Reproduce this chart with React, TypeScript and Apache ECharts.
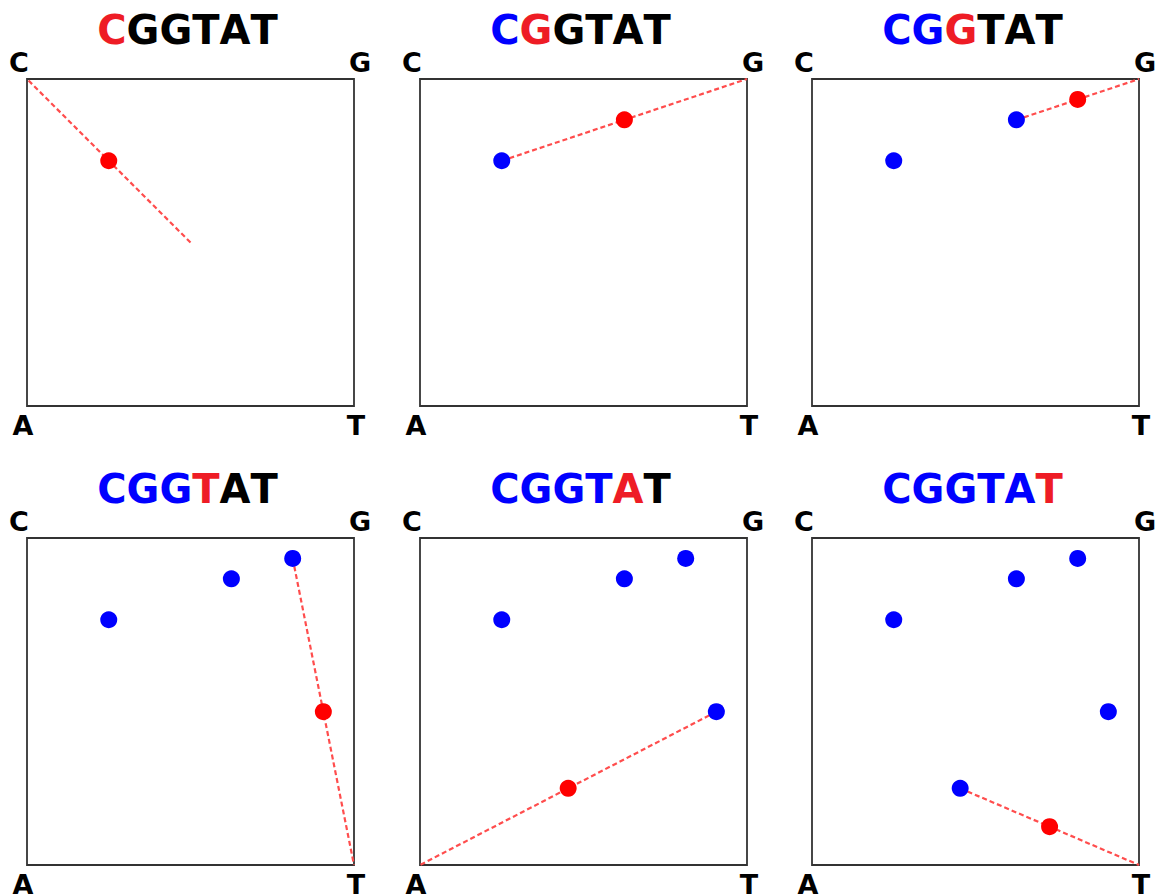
import React, { useEffect, useRef } from "react";
import * as echarts from "echarts";

const sequence = ["C", "G", "G", "T", "A", "T"];
const cornerNames = ["C", "G", "A", "T"];
const cornerX = [0, 1, 0, 1];
const cornerY = [1, 1, 0, 0];
const startPoint = [0.5, 0.5];
const pointX = [0.25, 0.625, 0.8125, 0.90625, 0.453125, 0.7265625];
const pointY = [0.75, 0.875, 0.9375, 0.46875, 0.234375, 0.1171875];

const colLeft = [27, 420, 812];
const rowTop = [79, 538];
const boxW = 327;
const boxH = 327;

const BLUE = "#0000ff";
const RED = "#ff0000";
const FONT = "DejaVu Sans";

export default function App() {
  const ref = useRef<HTMLDivElement>(null);
  useEffect(() => {
    if (!ref.current) return;
    const chart = echarts.init(ref.current, null, { renderer: "svg" });
    const grid: any[] = [];
    const xAxis: any[] = [];
    const yAxis: any[] = [];
    const series: any[] = [];
    const graphic: any[] = [];
    sequence.forEach((letter, i) => {
      const left = colLeft[i % 3];
      const top = rowTop[Math.floor(i / 3)];
      grid.push({ left, top, width: boxW, height: boxH, show: true, borderColor: "#333", borderWidth: 1.8, backgroundColor: "transparent" });
      const axBase = { gridIndex: i, min: 0, max: 1, show: false, splitLine: { show: false } };
      xAxis.push({ ...axBase, type: "value" });
      yAxis.push({ ...axBase, type: "value" });
      const prev = i === 0 ? startPoint : [pointX[i - 1], pointY[i - 1]];
      const ci = cornerNames.indexOf(letter);
      series.push({
        type: "line", xAxisIndex: i, yAxisIndex: i, symbol: "none", silent: true,
        data: [prev, [cornerX[ci], cornerY[ci]]],
        lineStyle: { color: "#ff4d4d", width: 2.2, type: [5, 3] }, z: 2,
      });
      const blue: number[][] = [];
      for (let j = 0; j < i; j++) blue.push([pointX[j], pointY[j]]);
      series.push({
        type: "scatter", xAxisIndex: i, yAxisIndex: i, symbolSize: 17,
        itemStyle: { color: BLUE, opacity: 1 }, data: blue, z: 3,
      });
      series.push({
        type: "scatter", xAxisIndex: i, yAxisIndex: i, symbolSize: 17,
        itemStyle: { color: RED, opacity: 1 }, data: [[pointX[i], pointY[i]]], z: 4,
      });
      let text = "";
      sequence.forEach((l, k) => {
        const st = k < i ? "b" : k === i ? "r" : "k";
        text += `{${st}|${l}}`;
      });
      const tstyle = { fontFamily: FONT, fontWeight: "bold", fontSize: 40 };
      graphic.push({
        type: "text", x: left + boxW / 2 - 3, y: top - 49,
        style: {
          text, align: "center", verticalAlign: "middle",
          rich: { b: { ...tstyle, fill: BLUE, color: BLUE }, r: { ...tstyle, fill: "#ee1c25", color: "#ee1c25" }, k: { ...tstyle, fill: "#000", color: "#000" } },
        },
      });
      const lab = (t: string, x: number, y: number) => ({
        type: "text", x, y,
        style: { text: t, align: "center", verticalAlign: "middle", font: `bold 27px '${FONT}'`, fill: "#000" },
      });
      graphic.push(lab("C", left - 8, top - 17));
      graphic.push(lab("G", left + boxW + 6, top - 17));
      graphic.push(lab("A", left - 4, top + boxH + 19));
      graphic.push(lab("T", left + boxW + 2, top + boxH + 19));
    });
    chart.setOption({ animation: false, grid, xAxis, yAxis, series, graphic });
    return () => chart.dispose();
  }, []);
  return <div ref={ref} style={{ position: "fixed", left: 0, top: 0, width: 1155, height: 896, background: "#fff" }} />;
}
